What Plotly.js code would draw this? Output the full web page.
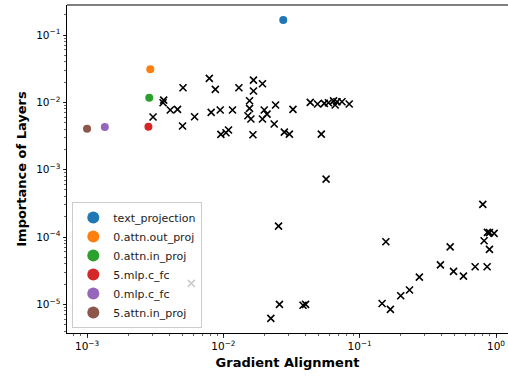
<!DOCTYPE html>
<html>
<head>
<meta charset="utf-8">
<script src="https://cdn.plot.ly/plotly-3.0.1.min.js"></script>
<style>html,body{margin:0;padding:0;background:#fff;}#chart{width:508px;height:376px;}</style>
</head>
<body>
<div id="chart"></div>
<script>
// Highlighted layers
const layerNames = ["text_projection", "0.attn.out_proj", "0.attn.in_proj", "5.mlp.c_fc", "0.mlp.c_fc", "5.attn.in_proj"];
const layerGrad  = [0.0275, 0.00291, 0.00286, 0.00282, 0.00135, 0.00100];
const layerImp   = [0.167, 0.0309, 0.0117, 0.00435, 0.0043, 0.00405];
const layerColors = ["#1f77b4", "#ff7f0e", "#2ca02c", "#d62728", "#9467bd", "#8c564b"];

// Other layers (black x markers)
const otherGrad = [
  0.00305, 0.00365, 0.00361, 0.00408, 0.00461, 0.00506, 0.00502, 0.00615, 0.00789, 0.00873,
  0.00814, 0.00948, 0.00959, 0.01045, 0.01091, 0.01167, 0.0130, 0.01663, 0.01663, 0.01936,
  0.01556, 0.01556, 0.01514, 0.01592, 0.01648, 0.01936, 0.01995, 0.0209, 0.02415, 0.0236,
  0.0280, 0.0305, 0.0324, 0.0434, 0.0491, 0.0550, 0.0590, 0.0643, 0.0661, 0.0681,
  0.0741, 0.0838, 0.0523, 0.0567, 0.0254, 0.1556, 0.800, 0.865, 0.895, 0.968,
  0.818, 0.895, 0.461, 0.391, 0.488, 0.577, 0.703, 0.861, 0.274, 0.232,
  0.200, 0.146, 0.168, 0.0258, 0.0384, 0.0401, 0.0223, 0.00582
];
const otherImp = [
  0.00605, 0.0108, 0.00986, 0.00769, 0.00787, 0.01648, 0.00445, 0.00611, 0.0227, 0.0156,
  0.0071, 0.00769, 0.00335, 0.00353, 0.00388, 0.00769, 0.01648, 0.0214, 0.01472, 0.0189,
  0.01057, 0.00814, 0.00632, 0.00565, 0.0033, 0.00565, 0.00769, 0.0067, 0.00912, 0.00476,
  0.00362, 0.00338, 0.00787, 0.0100, 0.00944, 0.00966, 0.00986, 0.0105, 0.00912, 0.0102,
  0.0102, 0.00944, 0.00338, 0.000725, 0.000145, 8.49e-5, 0.000305, 0.000117, 0.000116, 0.000113,
  8.78e-5, 6.55e-5, 7.15e-5, 3.86e-5, 3.08e-5, 2.62e-5, 3.61e-5, 3.61e-5, 2.54e-5, 1.63e-5,
  1.34e-5, 1.03e-5, 8.4e-6, 9.97e-6, 9.7e-6, 1.0e-5, 6.17e-6, 2.05e-5
];

// Tick labels
const xTickVals = [0.001, 0.01, 0.1, 1];
const xTickText = ["10<sup>−3</sup>", "10<sup>−2</sup>", "10<sup>−1</sup>", "10<sup>0</sup>"];
const yTickVals = [1e-5, 1e-4, 1e-3, 1e-2, 1e-1];
const yTickText = ["10<sup>−5</sup>", "10<sup>−4</sup>", "10<sup>−3</sup>", "10<sup>−2</sup>", "10<sup>−1</sup>"];

const FONT = "DejaVu Sans, sans-serif";

const traces = [{
  x: otherGrad, y: otherImp, mode: "markers", type: "scatter", showlegend: false,
  marker: {symbol: "x-thin", size: 7, color: "black", line: {color: "black", width: 1.6}},
  hoverinfo: "skip"
}];
layerNames.forEach((n, i) => {
  traces.push({
    x: [layerGrad[i]], y: [layerImp[i]], mode: "markers", type: "scatter", name: n,
    marker: {symbol: "circle", size: 8, color: layerColors[i]}
  });
});

const axisCommon = {
  type: "log", showgrid: false, zeroline: false, showline: true, linecolor: "black", linewidth: 1,
  ticks: "outside", ticklen: 3.5, tickwidth: 0.8, tickcolor: "black",
  tickfont: {family: FONT, size: 10.5, color: "black"},
  minor: {dtick: "D1", ticks: "outside", ticklen: 2, tickwidth: 0.6, tickcolor: "black", showgrid: false}
};

const layout = {
  width: 508, height: 376,
  margin: {l: 67, r: 0, t: 5, b: 43},
  paper_bgcolor: "white", plot_bgcolor: "white",
  font: {family: FONT, color: "black"},
  xaxis: Object.assign({}, axisCommon, {
    range: [-3.147, 0.088], tickvals: xTickVals, ticktext: xTickText,
    title: {text: "<b>Gradient Alignment</b>", font: {family: FONT, size: 13, color: "black"}, standoff: 6}
  }),
  yaxis: Object.assign({}, axisCommon, {
    range: [-5.426, -0.554], tickvals: yTickVals, ticktext: yTickText,
    title: {text: "<b>Importance of Layers</b>", font: {family: FONT, size: 13, color: "black"}, standoff: 6}
  }),
  legend: {
    x: 0.012, y: 0.015, xanchor: "left", yanchor: "bottom",
    bgcolor: "rgba(255,255,255,0.8)", bordercolor: "#cccccc", borderwidth: 1,
    font: {family: FONT, size: 11, color: "#222"}, itemsizing: "constant", itemwidth: 30
  },
  shapes: [{type: "line", xref: "paper", yref: "paper", x0: 0, x1: 1, y0: 1, y1: 1,
            line: {color: "#555", width: 1.5}}],
  showlegend: true
};

Plotly.newPlot("chart", traces, layout, {displayModeBar: false, staticPlot: true});
</script>
</body>
</html>
